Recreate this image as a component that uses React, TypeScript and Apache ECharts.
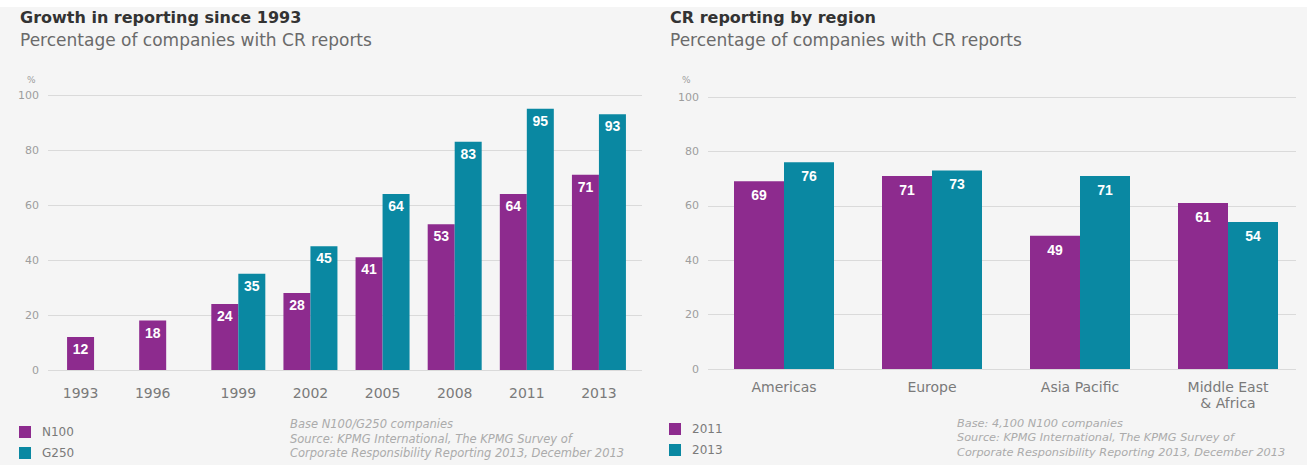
import React, { useEffect, useRef } from "react";
import * as echarts from "echarts";

const years = ["1993", "1996", "1999", "2002", "2005", "2008", "2011", "2013"];
const n100 = [12, 18, 24, 28, 41, 53, 64, 71];
const g250 = [null, null, 35, 45, 64, 83, 95, 93];

const regions = ["Americas", "Europe", "Asia Pacific", "Middle East\n& Africa"];
const r2011 = [69, 71, 49, 61];
const r2013 = [76, 73, 71, 54];

const yTicks = { min: 0, max: 100, interval: 20 };

const PURPLE = "#8d2b8e";
const TEAL = "#0a88a2";
const FONT = "'DejaVu Sans', 'Liberation Sans', Arial, sans-serif";
const FONT_B = "'Liberation Sans', Arial, sans-serif";

export default function App() {
  const ref = useRef<HTMLDivElement>(null);
  useEffect(() => {
    document.body.style.margin = "0";
    const chart = echarts.init(ref.current!, null, { renderer: "svg" });
    const gridAxisY = (gi: number) => ({
      type: "value",
      gridIndex: gi,
      ...yTicks,
      axisLabel: { color: "#9d9d9d", fontSize: 11, margin: 9, fontFamily: FONT },
      axisLine: { show: false },
      axisTick: { show: false },
      splitLine: { lineStyle: { color: "#dadada", width: 1 } },
    });
    const hiddenY = (gi: number) => ({
      type: "value",
      gridIndex: gi,
      ...yTicks,
      show: false,
      splitLine: { show: false },
    });
    const hiddenX = (gi: number) => ({ type: "value", gridIndex: gi, show: false });
    const valLabel = (size: number, dist: number) => ({
      show: true,
      position: "insideTop",
      distance: dist,
      color: "#ffffff",
      fontWeight: "bold",
      fontSize: size,
      fontFamily: FONT_B,
    });
    const legendStyle = {
      orient: "vertical",
      padding: 0,
      itemWidth: 12,
      itemHeight: 12,
      itemGap: 9,
      icon: "rect",
      textStyle: { color: "#7a7a7a", fontSize: 12, fontFamily: FONT, padding: [0, 0, 0, 6] },
    };
    const source = (base: string) =>
      `${base}\nSource: KPMG International, The KPMG Survey of\nCorporate Responsibility Reporting 2013, December 2013`;
    const option: any = {
      animation: false,
      backgroundColor: "#f5f5f5",
      grid: [
        { left: 48, right: 1307 - 642, top: 95, bottom: 465 - 370 },
        { left: 58, right: 1307 - 635, top: 95, bottom: 465 - 370 },
        { left: 708, right: 1307 - 1296, top: 97, bottom: 465 - 369 },
        { left: 710, right: 1307 - 1302, top: 97, bottom: 465 - 369 },
      ],
      xAxis: [
        hiddenX(0),
        {
          type: "category",
          gridIndex: 1,
          data: years,
          axisLine: { show: false },
          axisTick: { show: false },
          axisLabel: {
            interval: 0,
            color: "#7a7a7a",
            fontSize: 14,
            margin: 16,
            fontFamily: FONT,
            formatter: (v: string, i: number) => (i < 2 ? `{s|${v}}` : v),
            rich: { s: { padding: [0, 27, 0, 0], color: "#7a7a7a", fontSize: 14, fontFamily: FONT } },
          },
        },
        hiddenX(2),
        {
          type: "category",
          gridIndex: 3,
          data: regions,
          axisLine: { show: false },
          axisTick: { show: false },
          axisLabel: { interval: 0, color: "#7a7a7a", fontSize: 14, margin: 10, lineHeight: 16, fontFamily: FONT },
        },
      ],
      yAxis: [gridAxisY(0), hiddenY(1), gridAxisY(2), hiddenY(3)],
      legend: [
        { ...legendStyle, data: ["N100", "G250"], left: 19, top: 426 },
        { ...legendStyle, data: ["2011", "2013"], left: 669, top: 423 },
      ],
      series: [
        {
          name: "N100",
          type: "bar",
          xAxisIndex: 1,
          yAxisIndex: 1,
          data: n100,
          barWidth: 27,
          barGap: "0%",
          itemStyle: { color: PURPLE },
          label: valLabel(14, 5),
        },
        {
          name: "G250",
          type: "bar",
          xAxisIndex: 1,
          yAxisIndex: 1,
          data: g250,
          barWidth: 27,
          barGap: "0%",
          itemStyle: { color: TEAL },
          label: valLabel(14, 5),
        },
        {
          name: "2011",
          type: "bar",
          xAxisIndex: 3,
          yAxisIndex: 3,
          data: r2011,
          barWidth: 50,
          barGap: "0%",
          itemStyle: { color: PURPLE },
          label: valLabel(14, 7),
        },
        {
          name: "2013",
          type: "bar",
          xAxisIndex: 3,
          yAxisIndex: 3,
          data: r2013,
          barWidth: 50,
          barGap: "0%",
          itemStyle: { color: TEAL },
          label: valLabel(14, 7),
        },
      ],
      graphic: [
        { type: "rect", left: 0, top: 0, shape: { width: 1307, height: 7 }, style: { fill: "#ffffff" } },
        { type: "text", left: 20, top: 9, style: { text: "Growth in reporting since 1993", font: `bold 16px ${FONT}`, fill: "#333333" } },
        { type: "text", left: 20, top: 31, style: { text: "Percentage of companies with CR reports", font: `17px ${FONT}`, fill: "#6a6a6a" } },
        { type: "text", left: 670, top: 9, style: { text: "CR reporting by region", font: `bold 16px ${FONT}`, fill: "#333333" } },
        { type: "text", left: 670, top: 31, style: { text: "Percentage of companies with CR reports", font: `17px ${FONT}`, fill: "#6a6a6a" } },
        { type: "text", left: 27, top: 75, style: { text: "%", font: `9px ${FONT}`, fill: "#9d9d9d" } },
        { type: "text", left: 682, top: 75, style: { text: "%", font: `9px ${FONT}`, fill: "#9d9d9d" } },
        {
          type: "text",
          left: 290,
          top: 417,
          style: { text: source("Base N100/G250 companies"), font: `italic 11.5px ${FONT}`, lineHeight: 14.5, fill: "#ababab" },
        },
        {
          type: "text",
          left: 957,
          top: 416,
          style: { text: source("Base: 4,100 N100 companies"), font: `italic 11.3px ${FONT}`, lineHeight: 14.5, fill: "#ababab" },
        },
      ],
    };
    chart.setOption(option);
    return () => chart.dispose();
  }, []);
  return <div ref={ref} style={{ width: 1307, height: 465 }} />;
}
